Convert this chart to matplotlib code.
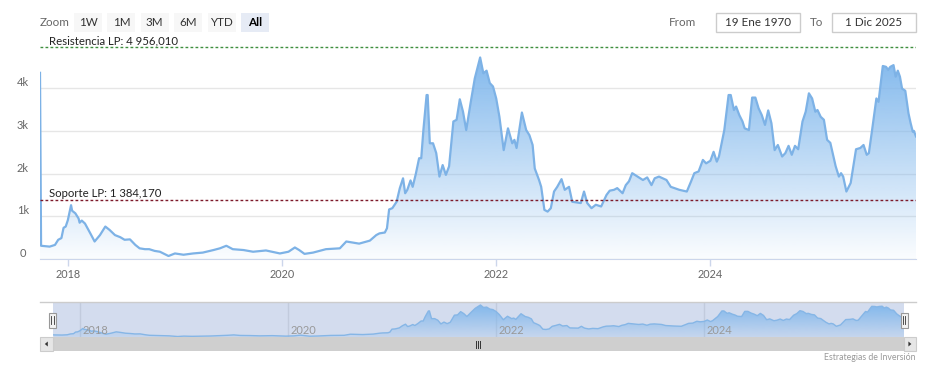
import matplotlib.pyplot as plt
import numpy as np
from matplotlib.patches import Rectangle, Polygon
from matplotlib.transforms import Affine2D
from matplotlib.colors import to_rgb

plt.rcParams['font.family'] = ['Lato', 'DejaVu Sans']

# fecha (año decimal) y valor de cierre
fechas = [
    2017.74, 2017.75, 2017.79, 2017.83, 2017.88, 2017.91, 2017.94, 2017.96, 2017.98, 2018.00,
    2018.03, 2018.04, 2018.07, 2018.10, 2018.11, 2018.13, 2018.16, 2018.21, 2018.25, 2018.30,
    2018.35, 2018.39, 2018.44, 2018.49, 2018.53, 2018.58, 2018.63, 2018.67, 2018.72, 2018.76,
    2018.81, 2018.86, 2018.94, 2019.00, 2019.08, 2019.17, 2019.26, 2019.36, 2019.42, 2019.48,
    2019.54, 2019.64, 2019.73, 2019.85, 2019.98, 2020.06, 2020.12, 2020.16, 2020.21, 2020.29,
    2020.41, 2020.54, 2020.60, 2020.72, 2020.82, 2020.88, 2020.91, 2020.96, 2020.98, 2021.00,
    2021.03, 2021.07, 2021.10, 2021.13, 2021.15, 2021.17, 2021.20, 2021.22, 2021.25, 2021.28,
    2021.30, 2021.32, 2021.35, 2021.36, 2021.38, 2021.41, 2021.44, 2021.47, 2021.50, 2021.53,
    2021.56, 2021.60, 2021.63, 2021.66, 2021.69, 2021.72, 2021.76, 2021.80, 2021.85, 2021.88,
    2021.91, 2021.94, 2021.97, 2022.00, 2022.03, 2022.07, 2022.11, 2022.15, 2022.17, 2022.19,
    2022.24, 2022.28, 2022.31, 2022.34, 2022.36, 2022.40, 2022.42, 2022.45, 2022.48, 2022.51,
    2022.54, 2022.57, 2022.61, 2022.64, 2022.68, 2022.71, 2022.76, 2022.79, 2022.82, 2022.85,
    2022.89, 2022.93, 2022.98, 2023.03, 2023.06, 2023.10, 2023.13, 2023.18, 2023.21, 2023.24,
    2023.27, 2023.32, 2023.37, 2023.41, 2023.45, 2023.48, 2023.52, 2023.59, 2023.63, 2023.71,
    2023.78, 2023.82, 2023.85, 2023.89, 2023.93, 2023.96, 2024.00, 2024.03, 2024.06, 2024.08,
    2024.13, 2024.17, 2024.19, 2024.22, 2024.24, 2024.27, 2024.30, 2024.32, 2024.36, 2024.39,
    2024.42, 2024.45, 2024.48, 2024.51, 2024.54, 2024.57, 2024.60, 2024.63, 2024.67, 2024.70,
    2024.73, 2024.76, 2024.79, 2024.82, 2024.86, 2024.89, 2024.92, 2024.95, 2024.98, 2025.00,
    2025.03, 2025.06, 2025.09, 2025.12, 2025.17, 2025.20, 2025.22, 2025.24, 2025.27, 2025.31,
    2025.36, 2025.40, 2025.43, 2025.46, 2025.48, 2025.51, 2025.55, 2025.57, 2025.61, 2025.64,
    2025.66, 2025.68, 2025.71, 2025.73, 2025.75, 2025.77, 2025.79, 2025.82, 2025.85, 2025.87,
    2025.89, 2025.90, 2025.92]

valores = [
    4360, 310, 300, 290, 330, 450, 490, 730, 760, 910,
    1260, 1130, 1070, 950, 850, 900, 830, 600, 410, 560,
    760, 680, 560, 510, 450, 460, 330, 250, 230, 230,
    190, 170, 70, 130, 100, 130, 150, 210, 250, 310,
    230, 210, 170, 200, 130, 170, 270, 210, 120, 150,
    230, 250, 410, 360, 430, 560, 600, 620, 720, 1160,
    1190, 1340, 1660, 1890, 1540, 1620, 1840, 1690, 2000, 2360,
    2360, 3020, 3840, 3840, 2710, 2710, 2480, 1930, 2200, 1970,
    2170, 3220, 3260, 3740, 3450, 3020, 3640, 4230, 4720, 4350,
    4410, 4120, 4040, 3760, 3330, 2550, 3060, 2710, 2790, 2600,
    3430, 3020, 2900, 2670, 2120, 1850, 1690, 1150, 1110, 1190,
    1580, 1690, 1870, 1620, 1690, 1340, 1320, 1310, 1580, 1310,
    1190, 1270, 1230, 1500, 1600, 1620, 1660, 1540, 1730, 1820,
    2010, 1930, 1850, 1910, 1730, 1890, 1930, 1850, 1690, 1620,
    1580, 1820, 2010, 2050, 2320, 2240, 2300, 2510, 2280, 2400,
    3020, 3840, 3840, 3490, 3570, 3370, 3220, 3060, 3020, 3780,
    3780, 3530, 3370, 3140, 3480, 3180, 2550, 2670, 2400, 2480,
    2650, 2440, 2650, 2570, 3220, 3450, 3880, 3760, 3450, 3490,
    3330, 3260, 2790, 2720, 2170, 1930, 2010, 1930, 1580, 1780,
    2570, 2600, 2670, 2440, 2480, 3020, 3760, 3680, 4520, 4500,
    4430, 4500, 4540, 4270, 4410, 4270, 3990, 3940, 3410, 3180,
    2980, 3000, 2870]

resistencia = 4956.010
soporte = 1384.170
txt_resistencia = 'Resistencia LP: 4 956,010'
txt_soporte = 'Soporte LP: 1 384,170'
anios = [2018, 2020, 2022, 2024]
yticks = [0, 1000, 2000, 3000, 4000]
ylabels = ['0', '1k', '2k', '3k', '4k']
botones = ['1W', '1M', '3M', '6M', 'YTD', 'All']
desde = '19 Ene 1970'
hasta = '1 Dic 2025'
credito = 'Estrategias de Inversión'

azul = '#7cb5ec'
W, H = 934, 372
fig = plt.figure(figsize=(W / 100, H / 100), dpi=100)
px = Affine2D().scale(1 / W, -1 / H).translate(0, 1) + fig.transFigure


def caja(x0, y0, x1, y1, fc, ec='none', lw=1.0, z=1):
    r = Rectangle((x0, y0), x1 - x0, y1 - y0, transform=px, facecolor=fc,
                  edgecolor=ec, lw=lw, zorder=z)
    fig.add_artist(r)
    return r


def area_degradado(ax, x, y, alpha_top=1.0, alpha_bot=0.0):
    poly = ax.fill_between(x, y, 0, facecolor='none', edgecolor='none')
    grad = np.zeros((256, 1, 4))
    grad[..., :3] = to_rgb(azul)
    grad[:, 0, 3] = np.linspace(alpha_top, alpha_bot, 256)
    im = ax.imshow(grad, extent=[min(x), max(x), 0, max(y)], aspect='auto',
                   origin='upper', zorder=1, interpolation='bilinear')
    im.set_clip_path(poly.get_paths()[0], transform=ax.transData)


# ---- grafico principal
ax = fig.add_axes([40 / W, 1 - 259 / H, 876 / W, 220 / H])
area_degradado(ax, fechas, valores, 0.95, 0.03)
ax.plot(fechas, valores, color='#7db2e6', lw=1.6, zorder=3)
ax.set_xlim(fechas[0], fechas[-1])
ax.set_ylim(0, 5152)

ax.set_yticks(yticks, ylabels, ha='center', va='bottom')
ax.tick_params(axis='y', length=0, pad=12.5, labelsize=8, labelcolor='#666666')
ax.yaxis.grid(True, color='#e6e6e6', lw=1)
ax.set_xticks(anios, [str(a) for a in anios])
ax.tick_params(axis='x', length=5, width=1, color='#ccd6eb', pad=2.5,
               labelsize=7.8, labelcolor='#666666')
ax.set_axisbelow(True)
for s in ['top', 'right', 'left']:
    ax.spines[s].set_visible(False)
ax.spines['bottom'].set_color('#ccd6eb')

ax.axhline(resistencia, color='#3f8f3f', lw=1, ls=(0, (2, 1.6)), zorder=4)
ax.axhline(soporte, color='#7e1a2a', lw=1, ls=(0, (2, 1.6)), zorder=4)
yax = ax.get_yaxis_transform()
ax.annotate(txt_resistencia, xy=(0, resistencia), xycoords=yax, xytext=(6.5, 1.8),
            textcoords='offset points', va='baseline', fontsize=8.2, color='#222222')
ax.annotate(txt_soporte, xy=(0, soporte), xycoords=yax, xytext=(6.5, 2.2),
            textcoords='offset points', va='baseline', fontsize=8.2, color='#222222')

# ---- botones de zoom y fechas
fig.text(40, 22, 'Zoom', transform=px, ha='left', va='center', fontsize=8.4, color='#666666')
for i, b in enumerate(botones):
    x0 = 74 + 33.4 * i
    activo = b == 'All'
    caja(x0, 13, x0 + 28, 32, '#e6ebf5' if activo else '#f7f7f7')
    fig.text(x0 + 14, 22.5, b, transform=px, ha='center', va='center', fontsize=8.4,
             color='#000000' if activo else '#333333', fontweight='bold' if activo else 'normal')

fig.text(683, 22, 'From', transform=px, ha='center', va='center', fontsize=8.4, color='#666666')
caja(716, 13, 800, 32, 'white', '#cccccc')
fig.text(758, 22.5, desde, transform=px, ha='center', va='center', fontsize=8.4, color='#333333')
fig.text(817, 22, 'To', transform=px, ha='center', va='center', fontsize=8.4, color='#666666')
caja(832, 13, 916, 32, 'white', '#cccccc')
fig.text(874, 22.5, hasta, transform=px, ha='center', va='center', fontsize=8.4, color='#333333')

# ---- navegador
fig.add_artist(plt.Line2D([40, 916], [302, 302], transform=px, color='#cccccc', lw=1))
nav = fig.add_axes([52.7 / W, 1 - 337 / H, (904 - 52.7) / W, 35 / H])
nav.set_facecolor('#d3dcee')
for a in anios:
    nav.axvline(a, color='#c2cbdd', lw=1, zorder=0.5)
area_degradado(nav, fechas[1:], valores[1:], 0.95, 0.15)
nav.plot(fechas[1:], valores[1:], color='#86b6e6', lw=1, zorder=3)
nav.set_xlim(fechas[0], fechas[-1])
nav.set_ylim(0, 5160)
nav.set_xticks([])
nav.set_yticks([])
for s in nav.spines.values():
    s.set_visible(False)
xax = nav.get_xaxis_transform()
for a in anios:
    nav.annotate(str(a), xy=(a, 0.2), xycoords=xax, xytext=(2, 0), textcoords='offset points',
                 ha='left', va='center', fontsize=8, color='#999999', zorder=5)

for hx in [52.7, 904]:
    caja(hx - 3.5, 312.5, hx + 3.5, 327.5, '#f2f2f2', '#999999', 0.8, z=5)
    for dx in [-1.3, 1.3]:
        fig.add_artist(plt.Line2D([hx + dx, hx + dx], [316, 324], transform=px,
                                  color='#333333', lw=0.6, zorder=6))

# barra de desplazamiento
caja(40, 337, 916, 351, '#f2f2f2')
caja(52.7, 337, 904, 351, '#cfcfcf')
caja(40, 337, 52.7, 351, '#e6e6e6', '#cccccc', 0.8)
caja(904, 337, 916, 351, '#e6e6e6', '#cccccc', 0.8)
fig.add_artist(Polygon([[44.8, 344], [47.8, 341.5], [47.8, 346.5]], closed=True,
                       transform=px, facecolor='#333333', edgecolor='none'))
fig.add_artist(Polygon([[911.4, 344], [908.4, 341.5], [908.4, 346.5]], closed=True,
                       transform=px, facecolor='#333333', edgecolor='none'))
for dx in [-2, 0, 2]:
    fig.add_artist(plt.Line2D([478 + dx, 478 + dx], [340.5, 347.5], transform=px,
                              color='#333333', lw=0.7))

fig.text(916, 357, credito, transform=px, ha='right', va='center', fontsize=6.3, color='#999999')

fig.savefig('out.png', dpi=100)
